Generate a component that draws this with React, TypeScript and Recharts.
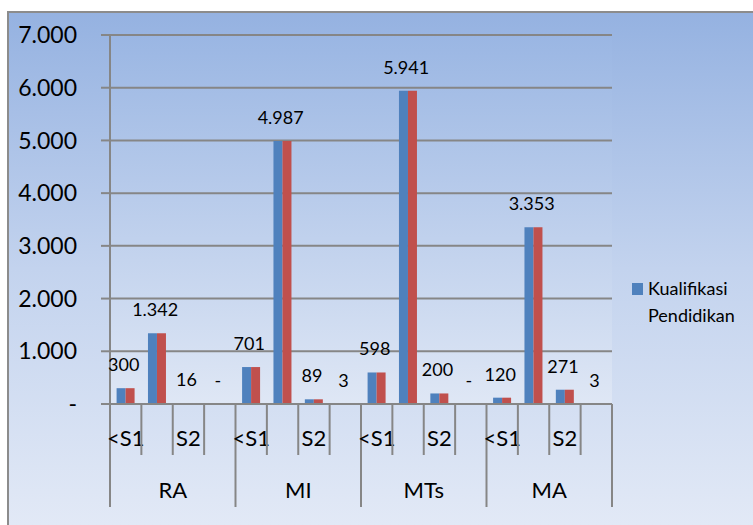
import { BarChart, Bar, XAxis, YAxis, CartesianGrid, Legend, LabelList } from 'recharts';

const groups = ['RA', 'MI', 'MTs', 'MA'];
const levels = ['<S1', 'S1', 'S2', 'S3'];
const kualifikasi = [300, 1342, 16, 0, 701, 4987, 89, 3, 598, 5941, 200, 0, 120, 3353, 271, 3];
const yTicks = [0, 1000, 2000, 3000, 4000, 5000, 6000, 7000];

const data = kualifikasi.map((v, i) => ({
  grp: groups[Math.floor(i / levels.length)],
  lvl: levels[i % levels.length],
  a: v,
  b: v,
}));

const W = 744;
const H = 512;
const M = { top: 22, right: 141, bottom: 0, left: 0 };
const Y_W = 101;
const SLOT = (W - M.left - M.right - Y_W) / data.length;
const GRID = '#868686';
const FONT = 'Lato, "Open Sans", sans-serif';

const fmt = (v: number) => (v === 0 ? '-' : String(v).replace(/\B(?=(\d{3})+(?!\d))/g, '.'));

const LevelTick = (props: any) => {
  const { x, y, payload, index } = props;
  const left = x - SLOT / 2;
  const groupStart = index % levels.length === 0;
  const last = index === data.length - 1;
  return (
    <g>
      <line x1={left} y1={y} x2={left} y2={y + (groupStart ? 103 : 51)} stroke={GRID} strokeWidth={2} />
      {last && <line x1={x + SLOT / 2} y1={y} x2={x + SLOT / 2} y2={y + 103} stroke={GRID} strokeWidth={2} />}
      {index % 2 === 0 && (
        <text x={x} y={y + 42} textAnchor="middle" fontSize={22} fontFamily={FONT} fill="#000">
          {payload.value}
        </text>
      )}
      {index % levels.length === 1 && (
        <text x={x + SLOT / 2} y={y + 94} textAnchor="middle" fontSize={22} fontFamily={FONT} fill="#000">
          {data[index].grp}
        </text>
      )}
    </g>
  );
};

const renderLabel = (props: any) => {
  const x = Number(props.x);
  const y = Number(props.y);
  const w = Number(props.width);
  return (
    <text x={x + w * 0.8} y={y - 17} textAnchor="middle" fontSize={18} fontFamily={FONT} fill="#000">
      {fmt(Number(props.value))}
    </text>
  );
};

const renderLegend = (props: any) => (
  <div style={{ fontFamily: FONT, fontSize: 18, lineHeight: '27px', color: '#000' }}>
    {(props.payload || [])
      .filter((p: any) => p.dataKey === 'a')
      .map((p: any) => (
        <div key={p.value} style={{ display: 'flex', alignItems: 'flex-start' }}>
          <span style={{ width: 11, height: 12, background: p.color, marginTop: 8, marginRight: 5, flex: 'none' }} />
          <span>
            Kualifikasi
            <br />
            Pendidikan
          </span>
        </div>
      ))}
  </div>
);

export default function App() {
  return (
    <div
      style={{
        position: 'absolute',
        left: 7,
        top: 11,
        width: W + 2,
        height: H + 2,
        boxSizing: 'border-box',
        borderLeft: '2px solid #8c8c8c',
        borderTop: '2px solid #8c8c8c',
        background: 'linear-gradient(to bottom, #95b2e1 0%, #c3d3ee 50%, #e2e9f6 100%)',
      }}
    >
      <BarChart width={W} height={H} data={data} margin={M} barGap={0} barCategoryGap="21%">
        <defs>
          <linearGradient id="plotBg" x1="0" y1="0" x2="0" y2="1">
            <stop offset="0%" stopColor="#9ab6e3" />
            <stop offset="100%" stopColor="#dfe7f5" />
          </linearGradient>
        </defs>
        <CartesianGrid vertical={false} stroke={GRID} strokeWidth={2} fill="url(#plotBg)" fillOpacity={1} />
        <XAxis
          dataKey="lvl"
          interval={0}
          height={H - M.top - 369}
          tickLine={false}
          tickSize={0}
          tickMargin={0}
          axisLine={{ stroke: GRID, strokeWidth: 2 }}
          tick={<LevelTick />}
        />
        <YAxis
          width={Y_W}
          domain={[0, 7000]}
          ticks={yTicks}
          interval={0}
          tickSize={9}
          tickMargin={24}
          tickFormatter={fmt}
          tick={{ fontSize: 23, fontFamily: FONT, fill: '#000' }}
          tickLine={{ stroke: GRID, strokeWidth: 2 }}
          axisLine={{ stroke: GRID, strokeWidth: 2 }}
        />
        <Legend
          layout="vertical"
          align="center"
          verticalAlign="middle"
          wrapperStyle={{ left: 623, top: 262, width: 125 }}
          content={renderLegend}
        />
        <Bar dataKey="a" name="Kualifikasi Pendidikan" fill="#4f81bd" minPointSize={0.01} isAnimationActive={false}>
          <LabelList dataKey="a" content={renderLabel} />
        </Bar>
        <Bar dataKey="b" name="Kualifikasi Pendidikan (2)" fill="#c0504d" legendType="none" isAnimationActive={false} />
      </BarChart>
    </div>
  );
}
